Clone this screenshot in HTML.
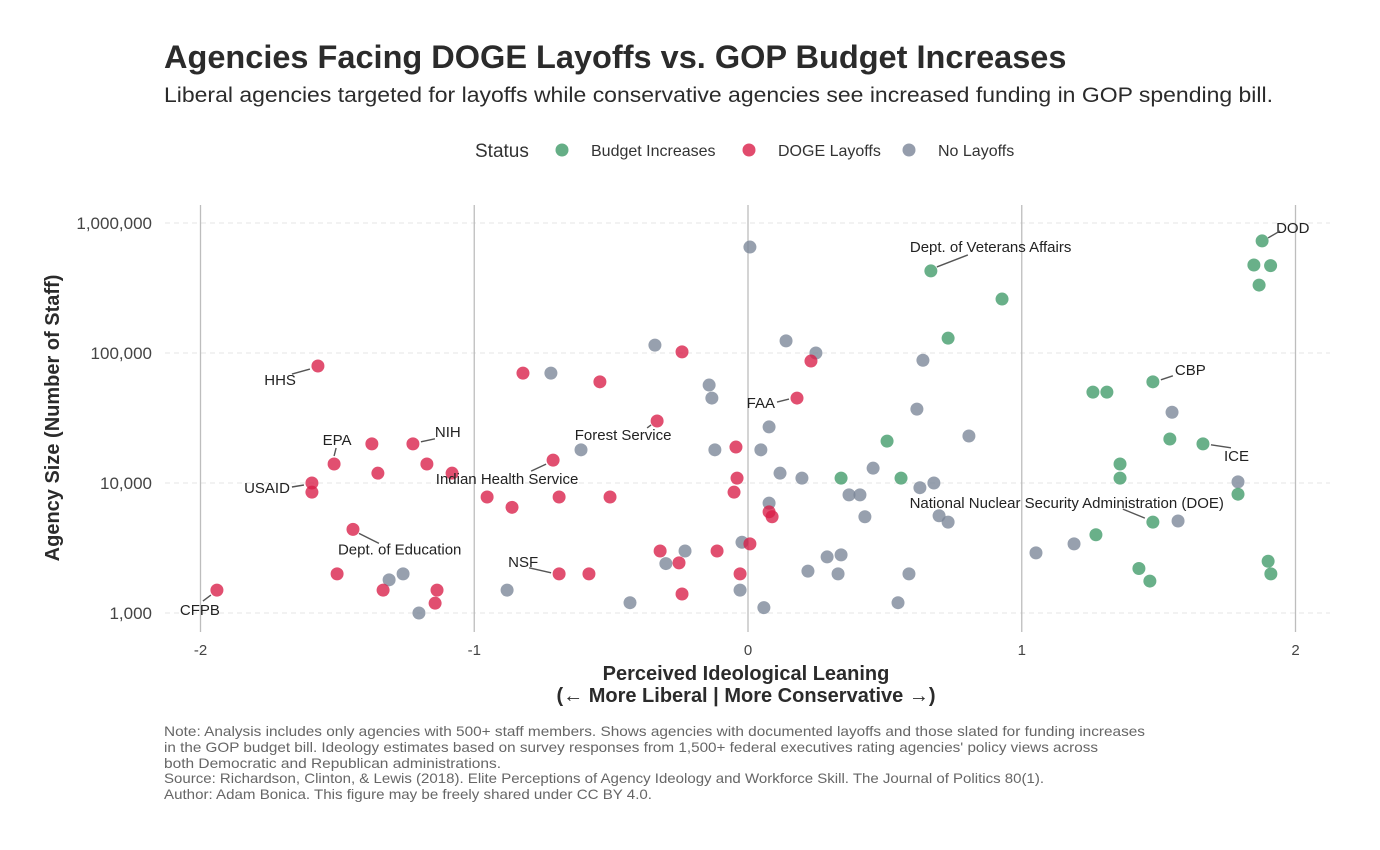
<!DOCTYPE html>
<html><head><meta charset="utf-8">
<style>
html,body{margin:0;padding:0;background:#fff;}
svg{display:block;font-family:"Liberation Sans","DejaVu Sans",sans-serif;}
</style></head>
<body>
<svg id="chart" width="1380" height="850" viewBox="0 0 1380 850">
<text x="164" y="68" font-size="32.5" font-weight="bold" fill="#2b2b2b">Agencies Facing DOGE Layoffs vs. GOP Budget Increases</text>
<text x="164" y="102" font-size="21.5" fill="#2b2b2b" textLength="1109" lengthAdjust="spacingAndGlyphs">Liberal agencies targeted for layoffs while conservative agencies see increased funding in GOP spending bill.</text>
<g>
<text x="475" y="157" font-size="19" fill="#333">Status</text>
<g><circle cx="562" cy="150" r="6.5" fill="#3f9a68" fill-opacity="0.8"/><text x="591" y="156" font-size="16" fill="#333">Budget Increases</text></g>
<g><circle cx="749" cy="150" r="6.5" fill="#d91e48" fill-opacity="0.8"/><text x="778" y="156" font-size="16" fill="#333">DOGE Layoffs</text></g>
<g><circle cx="909" cy="150" r="6.5" fill="#7a8597" fill-opacity="0.8"/><text x="938" y="156" font-size="16" fill="#333">No Layoffs</text></g>
</g>
<g id="grid"></g>
<g id="axes"></g>
<g id="points"></g>
<g id="labels"></g>
<text x="746" y="680" text-anchor="middle" font-size="20" font-weight="bold" fill="#2b2b2b">Perceived Ideological Leaning</text>
<text x="746" y="702" text-anchor="middle" font-size="20" font-weight="bold" fill="#2b2b2b">(← More Liberal | More Conservative →)</text>
<text transform="translate(59,418) rotate(-90)" text-anchor="middle" font-size="20" font-weight="bold" fill="#2b2b2b">Agency Size (Number of Staff)</text>
<g font-size="14" fill="#666">
<text x="164" y="736" textLength="981" lengthAdjust="spacingAndGlyphs">Note: Analysis includes only agencies with 500+ staff members. Shows agencies with documented layoffs and those slated for funding increases</text>
<text x="164" y="752" textLength="934" lengthAdjust="spacingAndGlyphs">in the GOP budget bill. Ideology estimates based on survey responses from 1,500+ federal executives rating agencies' policy views across</text>
<text x="164" y="768" textLength="337" lengthAdjust="spacingAndGlyphs">both Democratic and Republican administrations.</text>
<text x="164" y="783" textLength="880" lengthAdjust="spacingAndGlyphs">Source: Richardson, Clinton, &amp; Lewis (2018). Elite Perceptions of Agency Ideology and Workforce Skill. The Journal of Politics 80(1).</text>
<text x="164" y="799" textLength="488" lengthAdjust="spacingAndGlyphs">Author: Adam Bonica. This figure may be freely shared under CC BY 4.0.</text>
</g>
</svg>
<script>
const xTicks=[-2,-1,0,1,2];
const yTicks=[1000,10000,100000,1000000];
const yTickLabels=["1,000","10,000","100,000","1,000,000"];
const greenX=[1.878,1.848,1.909,1.867,0.668,0.928,0.731,1.260,1.311,1.479,1.541,0.508,1.662,1.359,1.359,0.340,0.559,1.79,1.479,1.271,1.90,1.91,1.428,1.468];
const greenY=[728000,475000,470000,333000,428000,260000,130000,50000,50000,60000,21800,21000,20000,14000,10900,10900,10900,8200,5000,4000,2500,2000,2200,1760];
const redX=[-1.94,-1.571,-1.512,-1.593,-1.593,-1.443,-1.501,-1.374,-1.352,-1.224,-1.173,-1.081,-1.333,-1.136,-1.143,-0.953,-0.862,-0.822,-0.712,-0.690,-0.690,-0.581,-0.541,-0.504,-0.332,-0.321,-0.241,-0.252,-0.241,-0.113,-0.044,-0.040,-0.051,-0.029,0.007,0.077,0.088,0.179,0.230];
const redY=[1500,79400,14000,10000,8500,4400,2000,20000,11900,20000,14000,11900,1500,1500,1190,7800,6500,70000,15000,7800,2000,2000,60000,7800,30000,3000,102000,2430,1400,3000,18900,10900,8500,2000,3400,6000,5500,45000,86700];
const grayX=[0.007,-1.202,-1.311,-1.260,-0.880,-0.720,-0.610,-0.431,-0.340,-0.300,-0.230,-0.142,-0.132,-0.121,-0.022,-0.029,0.047,0.077,0.077,0.058,0.117,0.139,0.219,0.197,0.248,0.289,0.329,0.340,0.369,0.409,0.427,0.457,0.548,0.588,0.617,0.639,0.628,0.679,0.698,0.731,0.807,1.052,1.191,1.549,1.571,1.79];
const grayY=[653000,1000,1800,2000,1500,70000,18000,1200,115000,2400,3000,56700,45000,18000,3500,1500,18000,27000,7000,1100,11900,124000,2100,10900,100000,2700,2000,2800,8100,8100,5500,13000,1200,2000,37000,88000,9200,10000,5600,5000,23000,2900,3400,35000,5100,10200];
const labelNames=["DOD","Dept. of Veterans Affairs","CBP","ICE","National Nuclear Security Administration (DOE)","HHS","EPA","NIH","USAID","Dept. of Education","CFPB","Indian Health Service","Forest Service","NSF","FAA"];
const labelPtX=[1.878,0.668,1.479,1.662,1.479,-1.571,-1.512,-1.224,-1.593,-1.443,-1.94,-0.712,-0.332,-0.690,0.179];
const labelPtY=[728000,428000,60000,20000,5000,79400,14000,20000,10000,4400,1500,15000,30000,2000,45000];

const X=v=>748+v*273.75;
const Y=v=>613-(Math.log10(v)-3)*130;
const NS="http://www.w3.org/2000/svg";
function mk(tag,attrs,parent){const e=document.createElementNS(NS,tag);for(const k in attrs)e.setAttribute(k,attrs[k]);parent.appendChild(e);return e;}
const grid=document.getElementById('grid'),axes=document.getElementById('axes'),pts=document.getElementById('points'),lab=document.getElementById('labels');
yTicks.forEach((t,i)=>{
  const l=mk('line',{x1:165,x2:1330,y1:Y(t),y2:Y(t),stroke:'#e6e6e6','stroke-dasharray':'5,4','stroke-width':1},grid);
  
  
  const tx=mk('text',{x:152,y:Y(t)+6,'text-anchor':'end','font-size':17,fill:'#444'},axes);
  tx.textContent=yTickLabels[i];
  
  
});
xTicks.forEach(t=>{
  const l=mk('line',{x1:X(t),x2:X(t),y1:205,y2:632,stroke:'#bdbdbd','stroke-width':1.3},grid);
  
  
  const tx=mk('text',{x:X(t),y:655,'text-anchor':'middle','font-size':15,fill:'#444'},axes);
  tx.textContent=String(t);
  
  
});
function series(xs,ys,color,name){
  xs.forEach((x,i)=>{
    const c=mk('circle',{cx:X(x),cy:Y(ys[i]),r:6.5,fill:color,'fill-opacity':0.78},pts);
    
    
  });
}
series(grayX,grayY,'#7a8597','point-no-layoffs');
series(redX,redY,'#d91e48','point-doge-layoffs');
series(greenX,greenY,'#3f9a68','point-budget-increase');
// label placement in pixels relative to point: text dx, dy, anchor, line start dx,dy, line end dx,dy
const lo=[[14,-8,'start',6,-3,18,-10],[-21,-19,'start',6,-4,37,-16],[22,-7,'start',8,-2,20,-6],[21,17,'start',8,1,28,4],[71,-14,'end',-8,-4,-30,-13],[-22,19,'end',-8,3,-26,8],[3,-19,'middle',0,-8,2,-16],[22,-7,'start',8,-2,22,-5],[-22,10,'end',-8,2,-20,4],[-15,25,'start',6,4,26,14],[-17,25,'middle',-6,5,-14,11],[-46,24,'middle',-7,4,-22,11],[-34,19,'middle',-6,4,-10,7],[-36,-7,'middle',-8,-1,-30,-6],[-22,10,'end',-8,1,-20,4]];
labelNames.forEach((n,i)=>{
  const px=X(labelPtX[i]),py=Y(labelPtY[i]);const o=lo[i];
  const tx=mk('text',{x:px+o[0],y:py+o[1],'text-anchor':o[2],'font-size':15,fill:'#222'},lab);
  tx.textContent=n;
  
  
  const ln=mk('line',{x1:px+o[3],y1:py+o[4],x2:px+o[5],y2:py+o[6],stroke:'#555','stroke-width':1.4},lab);
  
  
});
</script>
</body></html>
